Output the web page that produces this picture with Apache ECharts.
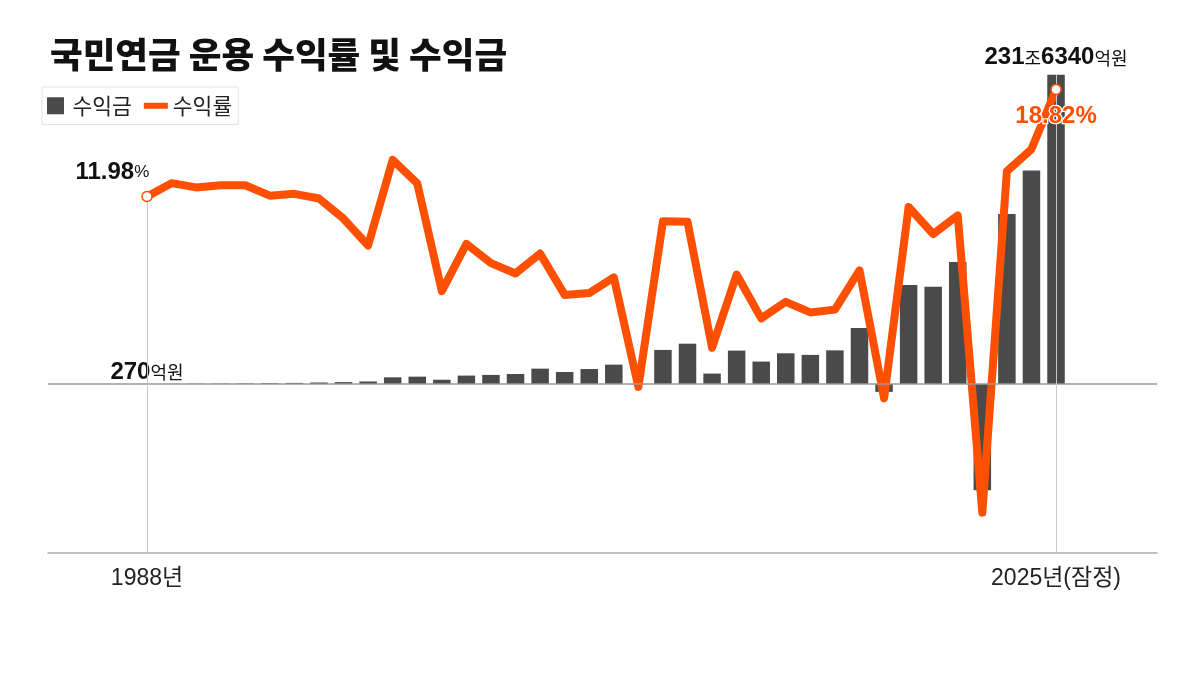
<!DOCTYPE html>
<html><head><meta charset="utf-8">
<script src="https://cdn.jsdelivr.net/npm/echarts@6/dist/echarts.min.js"></script>
<style>html,body{margin:0;padding:0;background:#fff}#c{width:1204px;height:686px}</style>
</head><body><div id="c"></div>
<script>
const chartTitle = '국민연금 운용 수익률 및 수익금';
const legendNames = ['수익금', '수익률'];
const years = [1988,1989,1990,1991,1992,1993,1994,1995,1996,1997,1998,1999,2000,2001,2002,2003,2004,2005,2006,2007,2008,2009,2010,2011,2012,2013,2014,2015,2016,2017,2018,2019,2020,2021,2022,2023,2024,2025];
// 수익금 (조원)
const profit = [0.027,0.1,0.2,0.3,0.4,0.6,0.8,1.1,1.4,1.9,5.0,5.5,3.2,6.3,6.8,7.5,11.5,9.0,11.2,14.5,-0.2,25.5,30.2,7.8,25.0,16.8,23.0,21.8,25.2,42.0,-5.9,74.1,72.9,91.4,-79.6,127.4,159.9,231.634];
// 수익률 (%)
const rate = [11.98,12.83,12.56,12.70,12.70,12.03,12.15,11.85,10.56,8.85,14.32,12.81,5.93,8.95,7.72,7.06,8.33,5.69,5.81,6.81,-0.18,10.39,10.37,2.31,6.99,4.19,5.25,4.57,4.75,7.26,-0.92,11.31,9.58,10.77,-8.22,13.59,15.00,18.82];
const xTickYears = [1988, 2025];
const xTickLabels = ['1988년', '2025년(잠정)'];

const ORANGE = '#ff4f00';
const BAR = '#4a4a4a';
const LAT = "'Liberation Sans','Noto Sans CJK KR',sans-serif";
const KR = "'Noto Sans CJK KR',sans-serif";
const rich = {
  b: {fontFamily: LAT, fontWeight: 'bold', fontSize: 24, color: '#111', textBorderWidth: 0},
  r: {fontFamily: KR, fontSize: 18, color: '#111', textBorderWidth: 0},
  p: {fontFamily: LAT, fontSize: 17, color: '#111', textBorderWidth: 0},
  o: {fontFamily: LAT, fontWeight: 'bold', fontSize: 24, color: ORANGE, textBorderColor: '#fff', textBorderWidth: 2.5}
};
function fmtWon(v) {
  const jo = Math.floor(v);
  const eok = Math.round((v - jo) * 10000);
  return (jo > 0 ? '{b|' + jo + '}{r|조}' : '') + '{b|' + eok + '}{r|억원}';
}
const last = years.length - 1;
const yMin0 = -126.6, yMax0 = 242.7;
const yMin1 = -10.8, yMax1 = 20.7;

const barData = years.map((y, i) => {
  const d = {value: [y, profit[i]]};
  if (i === 0) d.label = {show: true, position: 'top', distance: 0, color: '#111', formatter: fmtWon(profit[i]), rich};
  if (i === last) d.label = {show: true, position: 'top', distance: 5, color: '#111', formatter: fmtWon(profit[i]), rich};
  return d;
});
const lineData = years.map((y, i) => [y, rate[i]]);
const endData = [
  {value: [years[0], rate[0]], label: {show: true, position: [8, -6], align: 'right', verticalAlign: 'bottom', color: '#111',
     formatter: '{b|' + rate[0].toFixed(2) + '}{p|%}', rich}},
  {value: [years[last], rate[last]], label: {show: true, position: 'bottom', distance: 9, color: ORANGE,
     formatter: '{o|' + rate[last].toFixed(2) + '%}', rich}}
];

const chart = echarts.init(document.getElementById('c'));
chart.setOption({
  animation: false,
  backgroundColor: '#fff',
  title: {text: chartTitle, left: 45, top: 32,
    textStyle: {fontFamily: KR, fontWeight: 900, fontSize: 35.5, color: '#111'}},
  legend: {
    left: 42, top: 87, orient: 'horizontal',
    padding: [8, 6, 8, 5], itemGap: 12, itemWidth: 24, itemHeight: 17,
    borderColor: '#e3e3e3', borderWidth: 1,
    textStyle: {fontFamily: KR, fontSize: 21.5, color: '#222'},
    data: [
      {name: legendNames[0], icon: 'path://M0,0h17v17h-17z'},
      {name: legendNames[1], icon: 'path://M0,0h24v6h-24z'}
    ]
  },
  grid: {left: 48, right: 47, top: 60, bottom: 133},
  xAxis: {
    type: 'value', min: 1983.97, max: 2029.11,
    axisLine: {show: true, onZero: false, lineStyle: {color: '#aaa', width: 1.5}},
    axisTick: {show: false}, splitLine: {show: false},
    axisLabel: {show: true, customValues: xTickYears, margin: 14,
      formatter: v => xTickLabels[xTickYears.indexOf(v)] || '',
      fontFamily: LAT, fontSize: 23, color: '#222'}
  },
  yAxis: [
    {type: 'value', min: yMin0, max: yMax0, show: false, splitLine: {show: false}},
    {type: 'value', min: yMin1, max: yMax1, show: false, splitLine: {show: false}}
  ],
  series: [
    {
      name: legendNames[0], type: 'bar', yAxisIndex: 0, barWidth: 17.5, z: 2,
      itemStyle: {color: BAR},
      data: barData,
      markLine: {
        silent: true, symbol: 'none', label: {show: false},
        data: [
          {yAxis: 0, lineStyle: {color: '#999', width: 1.5, type: 'solid'}},
          [{coord: [years[last], profit[last]], lineStyle: {color: '#c8c8c8', width: 1, type: 'solid'}}, {coord: [years[last], yMin0]}]
        ]
      }
    },
    {
      name: legendNames[1], type: 'line', yAxisIndex: 1, z: 3,
      symbol: 'none', showSymbol: false,
      lineStyle: {color: ORANGE, width: 8, join: 'round', cap: 'round'},
      itemStyle: {color: ORANGE},
      data: lineData,
      markLine: {
        silent: true, symbol: 'none', label: {show: false},
        lineStyle: {color: '#c8c8c8', width: 1, type: 'solid'},
        data: [[{coord: [years[0], rate[0]]}, {coord: [years[0], yMin1]}]]
      }
    },
    {
      type: 'scatter', yAxisIndex: 1, z: 5, symbol: 'circle', symbolSize: 10,
      itemStyle: {color: '#fff', borderColor: ORANGE, borderWidth: 1.5, opacity: 1},
      data: endData
    }
  ]
});
</script></body></html>
